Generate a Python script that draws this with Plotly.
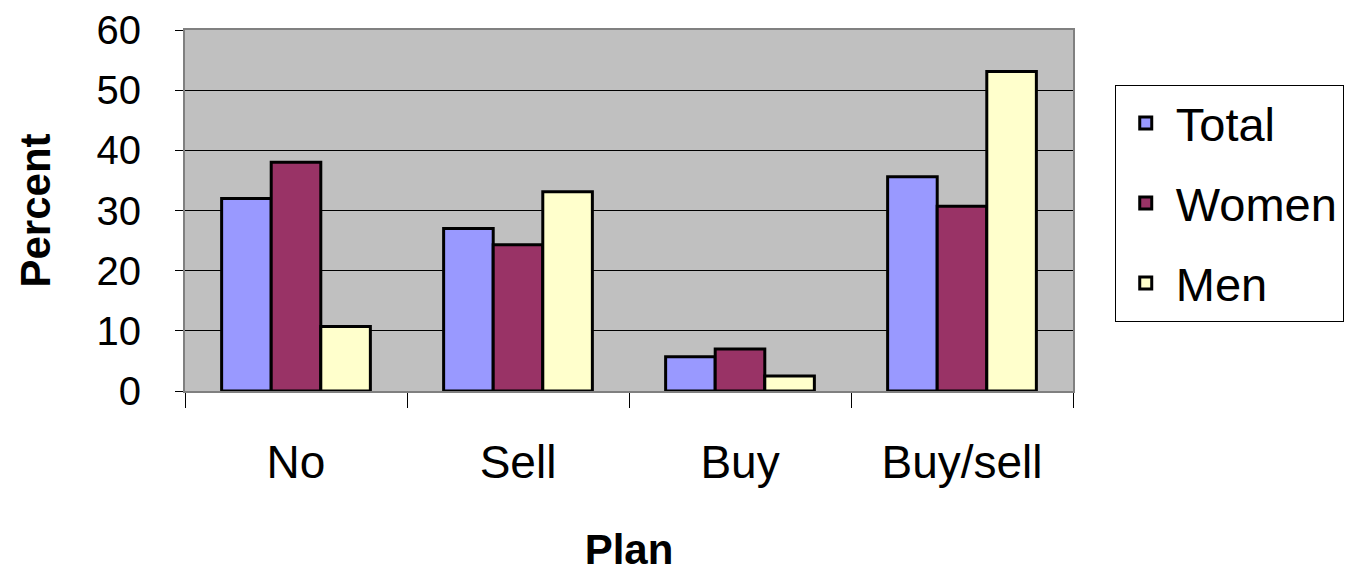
import plotly.graph_objects as go

categories = ["No", "Sell", "Buy", "Buy/sell"]
total = [32, 27, 5.7, 35.6]
women = [38, 24.3, 7, 30.7]
men = [10.7, 33.1, 2.5, 53.1]
y_ticks = [0, 10, 20, 30, 40, 50, 60]

series = [("Total", total, "#9999FF"), ("Women", women, "#993366"), ("Men", men, "#FFFFCC")]

fig = go.Figure()
for name, vals, col in series:
    fig.add_trace(go.Bar(
        x=categories, y=vals, name=name, legendgroup=name,
        marker=dict(color=col, line=dict(color="black", width=3)),
    ))

FONT = "Liberation Sans, Arial, sans-serif"
fig.update_layout(
    width=1357, height=573,
    margin=dict(l=177, r=292, t=22, b=190, autoexpand=False),
    paper_bgcolor="white", plot_bgcolor="#C0C0C0",
    barmode="group", bargap=0.33, bargroupgap=0,
    font=dict(family=FONT, color="black", size=40),
    showlegend=True,
    legend=dict(
        x=1.047, xanchor="left", y=0.848, yanchor="top",
        bordercolor="black", borderwidth=1, bgcolor="white",
        font=dict(size=47), traceorder="grouped", tracegroupgap=16,
        itemwidth=50,
    ),
    xaxis=dict(
        showgrid=False, ticks="outside", ticklen=15, tickcolor="black",
        tickson="boundaries", showline=True, linecolor="#808080", linewidth=2,
        tickfont=dict(size=46), ticklabelstandoff=30, automargin=False,
        title=dict(text="<b>Plan</b>", font=dict(size=42), standoff=47),
        mirror=True,
    ),
    yaxis=dict(
        range=[0, 60], tickvals=y_ticks, showgrid=True, gridcolor="black", gridwidth=1,
        ticks="outside", ticklen=8, tickcolor="black", automargin=False,
        showline=True, linecolor="#808080", linewidth=2, mirror=True,
        tickfont=dict(size=40), ticklabelstandoff=26,
        title=dict(text="<b>Percent</b>", font=dict(size=42), standoff=33),
        zeroline=False,
    ),
)
fig.write_html("out.html")
